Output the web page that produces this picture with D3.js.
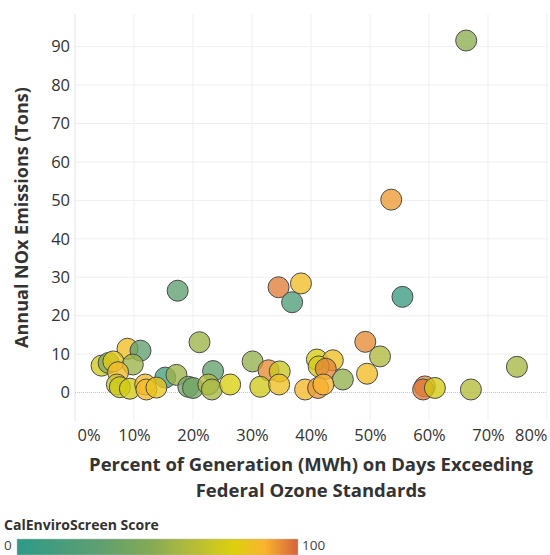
<!DOCTYPE html>
<html>
<head>
<meta charset="utf-8">
<script src="https://cdn.jsdelivr.net/npm/d3@7"></script>
<style>
  body { margin: 0; background: #fff; }
  svg { font-family: "Open Sans", sans-serif; }
</style>
</head>
<body>
<svg id="chart" width="550" height="555"></svg>
<script>
// percent of generation on days exceeding ozone standards (0-1)
var pct_exceed = [0.663, 0.536, 0.383, 0.345, 0.368, 0.174, 0.555, 0.211, 0.492, 0.089,
                  0.111, 0.517, 0.045, 0.057, 0.065, 0.098, 0.301, 0.410, 0.437, 0.073,
                  0.153, 0.172, 0.234, 0.328, 0.347, 0.413, 0.425, 0.454, 0.749, 0.495,
                  0.071, 0.076, 0.093, 0.119, 0.121, 0.138, 0.192, 0.200, 0.226, 0.232,
                  0.263, 0.314, 0.346, 0.390, 0.412, 0.421, 0.593, 0.590, 0.610, 0.671];
// annual NOx emissions (tons)
var nox_tons = [91.6, 50.2, 28.4, 27.4, 23.5, 26.5, 24.9, 13.1, 13.2, 11.4,
                10.9, 9.4, 7.0, 7.7, 8.1, 7.3, 8.1, 8.6, 8.4, 5.3,
                3.9, 4.6, 5.6, 5.8, 5.5, 6.8, 6.2, 3.4, 6.7, 4.9,
                2.1, 1.4, 1.0, 2.1, 0.8, 1.3, 1.5, 1.2, 2.1, 0.8,
                2.1, 1.5, 2.1, 0.8, 1.2, 2.1, 1.6, 0.8, 1.2, 0.8];
// CalEnviroScreen score (0-100)
var ces_score = [50, 92, 85, 96, 20, 30, 8, 55, 94, 85,
                 30, 60, 72, 45, 80, 55, 52, 75, 84, 86,
                 15, 55, 32, 94, 70, 74, 95, 52, 58, 85,
                 70, 72, 74, 86, 86, 82, 40, 38, 62, 58,
                 76, 72, 84, 87, 92, 88, 95, 97, 74, 62];

var x_ticks = [0, 0.1, 0.2, 0.3, 0.4, 0.5, 0.6, 0.7, 0.8];
var y_ticks = [0, 10, 20, 30, 40, 50, 60, 70, 80, 90];

var color_stops = [0, 0.3, 0.48, 0.6, 0.77, 0.88, 1];
var color_values = ["#2e9a88", "#5f9f70", "#86aa55", "#aeb93e", "#dcd00c", "#f9b52e", "#d4633c"];

function draw_chart() {
  var svg = d3.select("#chart");
  var p_left = 75, p_right = 547, p_top = 14, p_bottom = 421;

  var x = d3.scaleLinear().domain([0, 0.8]).range([p_left, p_right]);
  var y = d3.scaleLinear().domain([-7.4, 98.5]).range([p_bottom, p_top]);
  var color = d3.scaleLinear()
        .domain(color_stops.map(function(s) { return s * 100; }))
        .range(color_values);

  // grid
  svg.append("g").selectAll("line")
    .data(y_ticks.filter(function(d) { return d > 0; }))
    .enter().append("line")
      .attr("x1", p_left).attr("x2", p_right)
      .attr("y1", function(d) { return y(d); })
      .attr("y2", function(d) { return y(d); })
      .attr("stroke", "#efefef");
  svg.append("g").selectAll("line")
    .data(x_ticks.filter(function(d) { return d > 0; }))
    .enter().append("line")
      .attr("x1", function(d) { return x(d); })
      .attr("x2", function(d) { return x(d); })
      .attr("y1", p_top).attr("y2", p_bottom)
      .attr("stroke", "#efefef");
  svg.append("line")
    .attr("x1", p_left).attr("x2", p_left).attr("y1", p_top).attr("y2", p_bottom)
    .attr("stroke", "#e4e4e4");
  svg.append("line")
    .attr("x1", p_left).attr("x2", p_right).attr("y1", y(0)).attr("y2", y(0))
    .attr("stroke", "#c4c4c4").attr("stroke-dasharray", "1,1");

  // axes text
  var yAxis = svg.append("g")
    .attr("transform", "translate(" + (p_left - 5) + ",0)")
    .call(d3.axisLeft(y).tickValues(y_ticks).tickSize(0).tickPadding(0));
  yAxis.select(".domain").remove();
  yAxis.selectAll("text").attr("font-size", 16.5).attr("fill", "#333")
    .attr("font-family", "'Open Sans', sans-serif");

  var xAxis = svg.append("g")
    .attr("transform", "translate(0," + (p_bottom + 8) + ")")
    .call(d3.axisBottom(x).tickValues(x_ticks).tickSize(0).tickPadding(0)
      .tickFormat(d3.format(".0%")));
  xAxis.select(".domain").remove();
  xAxis.selectAll("text").attr("font-size", 16.5).attr("fill", "#333")
    .attr("font-family", "'Open Sans', sans-serif")
    .attr("text-anchor", function(d, i) {
      return i === 0 ? "start" : (i === x_ticks.length - 1 ? "end" : "middle");
    })
    .attr("dx", function(d, i) { return i === 0 ? 2 : 0; });

  svg.append("text")
    .attr("transform", "translate(28," + ((p_top + p_bottom) / 2) + ") rotate(-90)")
    .attr("text-anchor", "middle")
    .attr("font-size", 18).attr("font-weight", "bold").attr("fill", "#333")
    .text("Annual NOx Emissions (Tons)");

  var xtitle = svg.append("text")
    .attr("text-anchor", "middle")
    .attr("font-size", 18.5).attr("font-weight", "bold").attr("fill", "#333");
  xtitle.append("tspan").attr("x", (p_left + p_right) / 2).attr("y", 471)
    .text("Percent of Generation (MWh) on Days Exceeding");
  xtitle.append("tspan").attr("x", (p_left + p_right) / 2).attr("y", 497)
    .text("Federal Ozone Standards");

  // points
  var pts = d3.range(pct_exceed.length).map(function(i) {
    return { pct: pct_exceed[i], nox: nox_tons[i], score: ces_score[i] };
  });
  svg.append("g").selectAll("circle")
    .data(pts)
    .enter().append("circle")
      .attr("cx", function(d) { return x(d.pct); })
      .attr("cy", function(d) { return y(d.nox); })
      .attr("r", 10.5)
      .attr("fill", function(d) { return color(d.score); })
      .attr("fill-opacity", 0.78)
      .attr("stroke", "#4a4a4a")
      .attr("stroke-width", 1);

  // legend
  svg.append("text")
    .attr("x", 4).attr("y", 530)
    .attr("font-size", 14).attr("font-weight", "bold").attr("fill", "#333")
    .text("CalEnviroScreen Score");

  var grad = svg.append("defs").append("linearGradient").attr("id", "ces_grad");
  grad.selectAll("stop")
    .data(color_stops)
    .enter().append("stop")
      .attr("offset", function(d) { return d * 100 + "%"; })
      .attr("stop-color", function(d, i) { return color_values[i]; });

  svg.append("rect")
    .attr("x", 17).attr("y", 539).attr("width", 281).attr("height", 16)
    .attr("fill", "url(#ces_grad)")
    .attr("stroke", "#bbb").attr("stroke-width", 0.5);
  svg.append("text").attr("x", 4).attr("y", 550)
    .attr("font-size", 13.5).attr("fill", "#444").text("0");
  svg.append("text").attr("x", 302).attr("y", 550)
    .attr("font-size", 13.5).attr("fill", "#444").text("100");
}

draw_chart();
</script>
</body>
</html>
